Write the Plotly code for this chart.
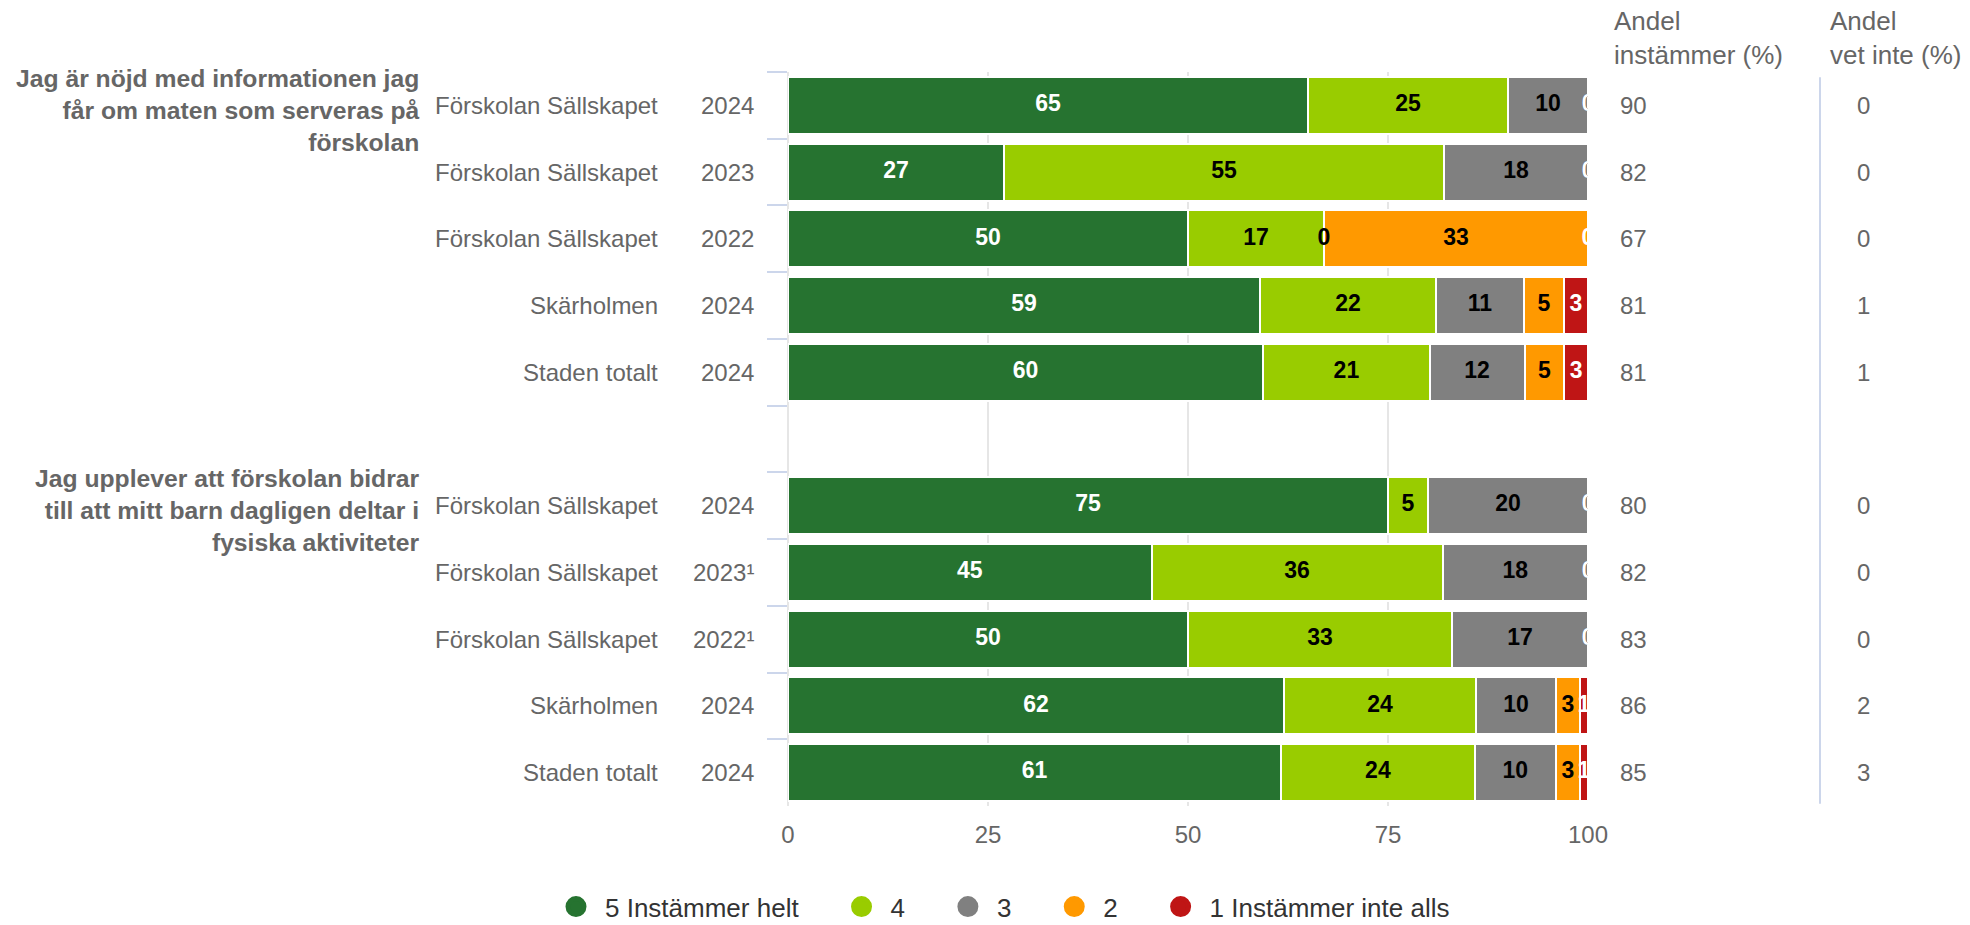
import plotly.graph_objects as go

# ---------------- data ----------------
row_ids = ["q1_r1", "q1_r2", "q1_r3", "q1_r4", "q1_r5", "gap",
           "q2_r1", "q2_r2", "q2_r3", "q2_r4", "q2_r5"]
units = ["Förskolan Sällskapet", "Förskolan Sällskapet", "Förskolan Sällskapet",
         "Skärholmen", "Staden totalt", "",
         "Förskolan Sällskapet", "Förskolan Sällskapet", "Förskolan Sällskapet",
         "Skärholmen", "Staden totalt"]
years = ["2024", "2023", "2022", "2024", "2024", "",
         "2024", "2023¹", "2022¹", "2024", "2024"]

s5 = [65, 27, 50, 59, 60, None, 75, 45, 50, 62, 61]
s4 = [25, 55, 17, 22, 21, None, 5, 36, 33, 24, 24]
s3 = [10, 18, 0, 11, 12, None, 20, 18, 17, 10, 10]
s2 = [0, 0, 33, 5, 5, None, 0, 0, 0, 3, 3]
s1 = [0, 0, 0, 3, 3, None, 0, 0, 0, 1, 1]

agree = [90, 82, 67, 81, 81, None, 80, 82, 83, 86, 85]
dont_know = [0, 0, 0, 1, 1, None, 0, 0, 0, 2, 3]

series_names = ["5 Instämmer helt", "4", "3", "2", "1 Instämmer inte alls"]
series_colors = ["#267330", "#99cc00", "#808080", "#ff9900", "#bf1515"]
label_colors = ["#ffffff", "#000000", "#000000", "#000000", "#ffffff"]

questions = [
    ("q1_r1", "Jag är nöjd med informationen jag<br>får om maten som serveras på<br>förskolan"),
    ("q2_r1", "Jag upplever att förskolan bidrar<br>till att mitt barn dagligen deltar i<br>fysiska aktiviteter"),
]
header_agree = "Andel<br>instämmer (%)"
header_dk = "Andel<br>vet inte (%)"
x_ticks = [0, 25, 50, 75, 100]

FONT = "Liberation Sans, Arial, Helvetica, sans-serif"
GREY = "#666666"
NB = "\u00a0"

series = [s5, s4, s3, s2, s1]

fig = go.Figure()

# stacked bars (normalised to 100 %)
for vals, name, col in zip(series, series_names, series_colors):
    fig.add_trace(go.Bar(
        y=row_ids, x=vals, orientation="h", name=name,
        marker=dict(color=col, line=dict(color="#ffffff", width=2)),
        showlegend=False, hoverinfo="skip",
    ))

# data labels placed at segment centres computed from the data
lab = {"#000000": ([], [], []), "#ffffff": ([], [], [])}
for i, rid in enumerate(row_ids):
    if s5[i] is None:
        continue
    vals = [s[i] for s in series]
    tot = sum(vals)
    cum = 0.0
    for k, v in enumerate(vals):
        w = v / tot * 100.0
        xs, ys, ts = lab[label_colors[k]]
        xs.append(cum + w / 2.0)
        ys.append(rid)
        ts.append(str(v))
        cum += w

for col in ["#000000", "#ffffff"]:
    xs, ys, ts = lab[col]
    fig.add_trace(go.Scatter(
        x=xs, y=ys, text=ts, mode="text", cliponaxis=True,
        textfont=dict(family=FONT, size=23, color=col, weight="bold"),
        showlegend=False, hoverinfo="skip",
    ))

# legend proxies (round symbols)
for name, col in zip(series_names, series_colors):
    fig.add_trace(go.Scatter(
        x=[None], y=[None], mode="markers", name=name + NB * 4,
        marker=dict(symbol="circle", size=16, color=col, line=dict(color=col, width=5)),
        hoverinfo="skip",
    ))

annotations = []
for i, rid in enumerate(row_ids):
    if not units[i]:
        continue
    annotations.append(dict(xref="paper", yref="y", x=-0.16, y=rid, text=units[i],
                            xanchor="right", yanchor="middle", showarrow=False,
                            font=dict(family=FONT, size=24, color=GREY)))
    annotations.append(dict(xref="paper", yref="y", x=-0.04, y=rid, text=years[i],
                            xanchor="right", yanchor="middle", showarrow=False,
                            font=dict(family=FONT, size=24, color=GREY)))
    annotations.append(dict(xref="paper", yref="y", x=1.0375, y=rid, text=str(agree[i]),
                            xanchor="left", yanchor="middle", showarrow=False,
                            font=dict(family=FONT, size=24, color=GREY)))
    annotations.append(dict(xref="paper", yref="y", x=1.334, y=rid, text=str(dont_know[i]),
                            xanchor="left", yanchor="middle", showarrow=False,
                            font=dict(family=FONT, size=24, color=GREY)))

for rid, q in questions:
    idx = row_ids.index(rid)
    annotations.append(dict(xref="paper", yref="y", x=-0.4575, y=idx - 0.5, text=q,
                            xanchor="right", yanchor="top", align="right", showarrow=False,
                            yshift=9,
                            font=dict(family=FONT, size=24.7, color=GREY, weight="bold")))

annotations.append(dict(xref="paper", yref="paper", x=1.03, y=1.047, text=header_agree,
                        xanchor="left", yanchor="middle", align="left", showarrow=False,
                        font=dict(family=FONT, size=26, color=GREY)))
annotations.append(dict(xref="paper", yref="paper", x=1.2995, y=1.047, text=header_dk,
                        xanchor="left", yanchor="middle", align="left", showarrow=False,
                        font=dict(family=FONT, size=26, color=GREY)))

# page body has an 8px margin, so the figure is 8px smaller than the window
fig.update_layout(
    width=1962, height=917,
    margin=dict(l=780, r=382, t=64, b=119, autoexpand=False),
    paper_bgcolor="#ffffff", plot_bgcolor="#ffffff",
    barmode="stack", barnorm="percent", bargap=0.145,
    font=dict(family=FONT, size=24, color=GREY),
    annotations=annotations,
    shapes=[dict(type="line", xref="paper", yref="paper", x0=1.29, x1=1.29,
                 y0=0.003, y1=0.993, line=dict(color="#ccd6eb", width=2))],
    legend=dict(orientation="h", xref="paper", yref="paper",
                x=-0.30125, xanchor="left", y=-0.1372, yanchor="middle",
                traceorder="normal", itemwidth=48,
                font=dict(family=FONT, size=26, color="#333333"),
                itemclick=False, itemdoubleclick=False, bgcolor="rgba(0,0,0,0)"),
    xaxis=dict(range=[0, 100], tickvals=x_ticks, showgrid=True, gridcolor="#e6e6e6",
               gridwidth=2, zeroline=True, zerolinecolor="#e6e6e6", zerolinewidth=2,
               showline=False, ticks="", ticklabelstandoff=12,
               tickfont=dict(family=FONT, size=24, color=GREY), fixedrange=True),
    yaxis=dict(type="category", categoryorder="array", categoryarray=row_ids,
               range=[len(row_ids) - 0.5, -0.5], showticklabels=False,
               ticks="outside", tickson="boundaries", ticklen=20, tickwidth=2,
               tickcolor="#ccd6eb", showgrid=False, zeroline=False, showline=False,
               fixedrange=True),
)

fig.write_html("out.html")
